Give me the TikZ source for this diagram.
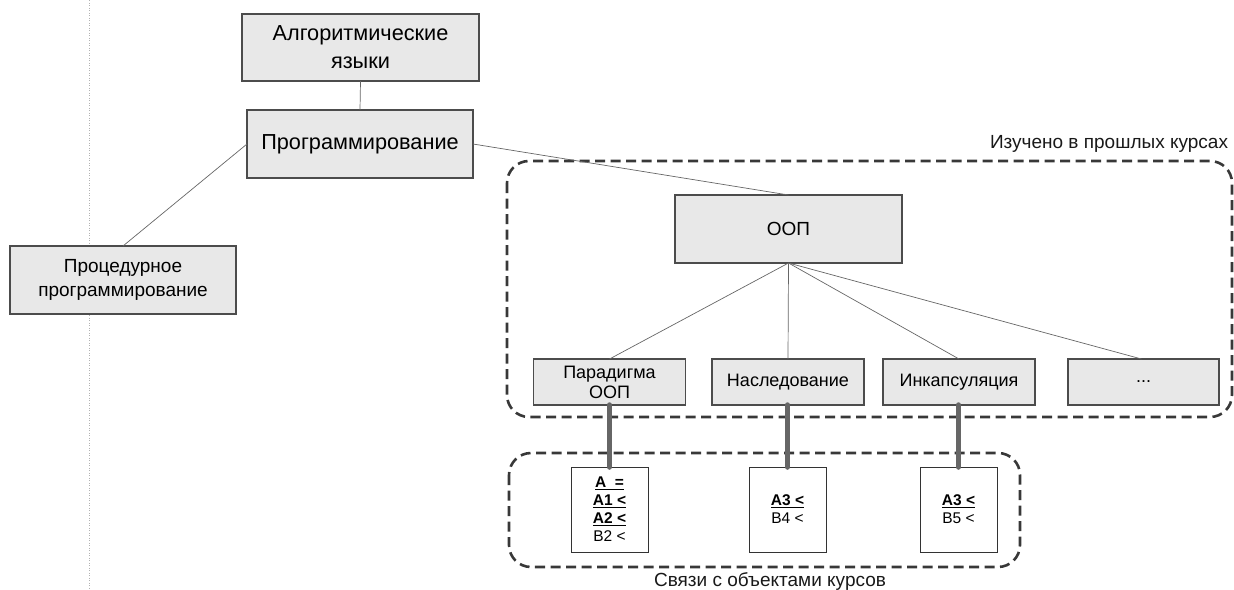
\documentclass[tikz,border=0pt]{standalone}
\usepackage{fontspec}
\setmainfont{Liberation Sans}
\usetikzlibrary{calc}
\definecolor{boxfill}{gray}{0.91}
\definecolor{boxline}{gray}{0.30}
\definecolor{linkgray}{gray}{0.40}
\definecolor{groupline}{gray}{0.22}
\tikzset{
  every node/.style={inner sep=0pt, outer sep=0pt, font=\fontsize{14}{17}\selectfont},
  topic/.style={draw=boxline, line width=1.2pt, fill=boxfill, rectangle, align=center},
  bigtopic/.style={topic, font=\fontsize{21.7}{28}\selectfont},
  midtopic/.style={topic, font=\fontsize{19}{24}\selectfont},
  smalltopic/.style={topic, font=\fontsize{18}{20}\selectfont, minimum width=152pt, minimum height=46pt},
  refcard/.style={draw=black!80, line width=1pt, fill=white, rectangle, align=center,
    minimum width=77pt, minimum height=85pt, font=\fontsize{15.5}{18}\selectfont},
  tree/.style={draw=linkgray, line width=0.7pt},
  bond/.style={draw=linkgray, line width=5.5pt, line cap=round},
  group/.style={draw=groupline, line width=2.6pt, dash pattern=on 10pt off 5.5pt, rounded corners=22pt},
  grouplabel/.style={font=\fontsize{19}{22}\selectfont, text=black!90},
}
\newcommand{\ulb}[1]{\underline{\textbf{#1}}}
\begin{document}
\begin{tikzpicture}[x=1pt, y=-1pt]
\useasboundingbox (0,0) rectangle (1234,589);

% timeline marker on the left
\draw[gray!60, line width=1pt, dash pattern=on 1pt off 1.5pt] (89,0) -- (89,589);

% top-level topics
\node[bigtopic, minimum width=237pt, minimum height=67pt] (alg) at (360.5,47.5) {Алгоритмические\\языки};
\node[bigtopic, minimum width=226pt, minimum height=68pt] (prog) at (360,144) {Программирование};
\node[midtopic, minimum width=226pt, minimum height=68pt] (proc) at (123,280) {Процедурное\\программирование};

% previously studied group
\draw[group] (507,161) rectangle (1232,417);
\node[grouplabel, anchor=base east] (studied) at (1228,148) {Изучено в прошлых курсах};

\node[topic, font=\fontsize{19}{22}\selectfont, minimum width=227pt, minimum height=68pt] (oop) at (788.5,229) {ООП};
\node[smalltopic] (par) at (609.5,382) {Парадигма\\ООП};
\node[smalltopic] (nas) at (788,382) {Наследование};
\node[smalltopic] (ink) at (959,382) {Инкапсуляция};
\node[smalltopic, minimum width=151pt] (more) at (1143.5,382) {...};

% course objects group
\draw[group] (509,453) rectangle (1020,567);
\node[grouplabel, anchor=base] (links) at (770,586) {Связи с объектами курсов};

\node[refcard] (c1) at (609.5,509.5) {\ulb{A\ \ =}\\\ulb{A1 <}\\\ulb{A2 <}\\B2 <};
\node[refcard] (c2) at (787.5,509.5) {\ulb{A3 <}\\B4 <};
\node[refcard] (c3) at (958.5,509.5) {\ulb{A3 <}\\B5 <};

% hierarchy links
\draw[tree] (alg.south) -- (prog.north);
\draw[tree] (prog.west) -- (proc.north);
\draw[tree] (prog.east) -- (oop.north);
\draw[tree] (oop.south) -- (par.north);
\draw[tree] (oop.south) -- (nas.north);
\draw[tree] (oop.south) -- (ink.north);
\draw[tree] (oop.south) -- ($(more.north)+(-2,0)$);

% links to course objects
\draw[bond] (par.south -| c1) -- (c1.north);
\draw[bond] (nas.south -| c2) -- (c2.north);
\draw[bond] (ink.south -| c3) -- (c3.north);
\end{tikzpicture}
\end{document}
